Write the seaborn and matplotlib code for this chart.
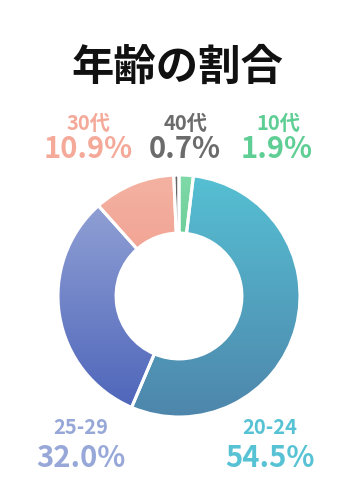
import numpy as np
import matplotlib
matplotlib.use("Agg")
import matplotlib.pyplot as plt
import seaborn as sns
from matplotlib.colors import LinearSegmentedColormap

sns.set_theme(style="white")
plt.rcParams['font.family'] = ['Noto Sans CJK JP', 'DejaVu Sans']

# Data (clockwise from top)
categories = ["10代", "20-24", "25-29", "30代", "40代"]
values = [1.9, 54.5, 32.0, 10.9, 0.7]
top_colors = ["#7fdaa8", "#56c0d3", "#99a8d8", "#f4b2a2", "#666666"]
bottom_colors = ["#37a86c", "#4e86ab", "#4c63b9", "#ec8677", "#444444"]
label_colors = ["#5fce94", "#56c2d4", "#97a8d8", "#f4a999", "#6b6b6b"]

W, H = 360, 500
fig = plt.figure(figsize=(W / 100, H / 100), dpi=100)
fig.patch.set_facecolor("white")

cx, cy, r = 179, 296, 121
pad = 1.03
ax = fig.add_axes([(cx - r * pad) / W, (H - cy - r * pad) / H, 2 * r * pad / W, 2 * r * pad / H])
ax.set_xlim(-pad, pad)
ax.set_ylim(-pad, pad)
ax.set_aspect("equal")
ax.axis("off")

wedges, _ = ax.pie(values, startangle=90, counterclock=False, radius=1.0,
                   colors=["none"] * len(values),
                   wedgeprops=dict(width=0.48, edgecolor="none", linewidth=0))

grad = np.linspace(0, 1, 256).reshape(-1, 1)
for w, tc, bc in zip(wedges, top_colors, bottom_colors):
    cmap = LinearSegmentedColormap.from_list("g", [tc, bc])
    im = ax.imshow(grad, cmap=cmap, extent=[-1, 1, -1, 1], origin="upper",
                   aspect="auto", zorder=1)
    im.set_clip_path(w)

# white separators
ax.pie(values, startangle=90, counterclock=False, radius=1.0,
       colors=["none"] * len(values),
       wedgeprops=dict(width=0.48, edgecolor="white", linewidth=2.2, fill=False))
ax.set_xlim(-pad, pad)
ax.set_ylim(-pad, pad)

def ptext(x, y, s, **kw):
    fig.text(x / W, 1 - y / H, s, ha="center", va="center", **kw)

ptext(177, 68, "年齢の割合", fontsize=30.5, fontweight="bold", color="#111111")

label_pos = {
    "10代": (278, 124, 277, 149),
    "20-24": (270, 428, 270, 458),
    "25-29": (81, 428, 81, 458),
    "30代": (88, 124, 88, 149),
    "40代": (186, 124, 185, 149),
}
for cat, val, col in zip(categories, values, label_colors):
    lx, ly, px, py = label_pos[cat]
    ptext(lx, ly, cat, fontsize=14.5, fontweight="bold", color=col)
    ptext(px, py, f"{val:.1f}%", fontsize=21, fontweight="bold", color=col)

fig.savefig("out.png", dpi=100, facecolor="white")
